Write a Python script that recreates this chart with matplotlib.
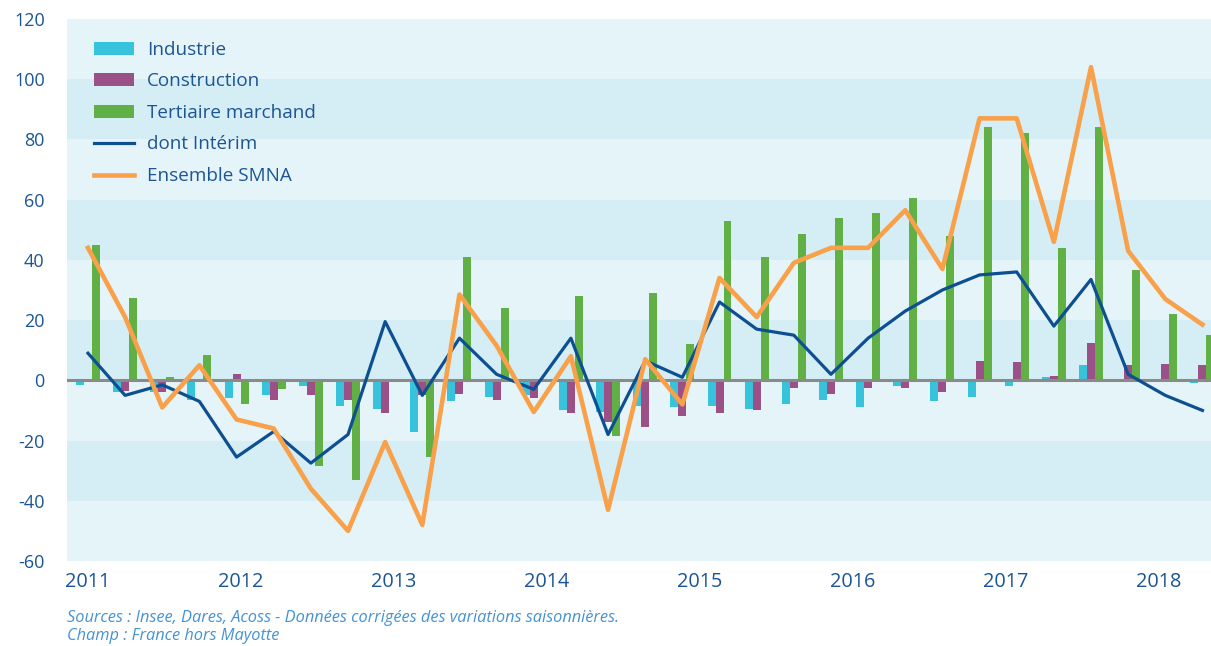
import numpy as np
import matplotlib
matplotlib.use("Agg")
import matplotlib.pyplot as plt

plt.rcParams['font.family'] = ['Open Sans', 'DejaVu Sans']
plt.rcParams['axes.unicode_minus'] = False

# 2011T1 -> 2018T3, variations trimestrielles (milliers)
industrie = [-1.5, -4, -4, -6.5, -6, -5, -2, -8.5, -9.5, -17,
             -7, -5.5, -5, -10, -10.5, -8.5, -9, -8.5, -9.5, -8,
             -6.5, -9, -2, -7, -5.5, -2, 1, 5, -0.3, 0, -1]
construction = [0, -3.5, -4, -0.5, 2, -6.5, -5, -6.5, -11, -5,
                -4.5, -6.5, -6, -11, -14, -15.5, -12, -11, -10, -2.5,
                -4.5, -2.5, -2.5, -4, 6.5, 6, 1.5, 12.5, 5, 5.5, 5]
tertiaire = [45, 27.5, 1, 8.5, -8, -3, -28.5, -33, 0, -25.5,
             41, 24, 0.5, 28, -18.5, 29, 12, 53, 41, 48.5,
             54, 55.5, 60.5, 48, 84, 82, 44, 84, 36.5, 22, 15]
interim = [9, -5, -1.5, -7, -25.5, -17, -27.5, -18, 19.5, -5,
           14, 2, -3, 14, -18, 6.5, 1, 26, 17, 15,
           2, 14, 23, 30, 35, 36, 18, 33.5, 2, -5, -10]
smna = [44, 21, -9, 5, -13, -16, -36, -50, -20.5, -48,
        28.5, 11.5, -10.5, 8, -43, 7, -8, 34, 21, 39,
        44, 44, 56.5, 37, 87, 87, 46, 104, 43, 27, 18.5]
years = ['2011', '2012', '2013', '2014', '2015', '2016', '2017', '2018']

x = np.arange(len(smna))
w = 0.215
txt = '#1b5596'

fig = plt.figure(figsize=(12.11, 6.46), dpi=100)
ax = fig.add_axes([0.0553, 0.1316, 0.9447, 0.839])

# bandes de fond
for k, lo in enumerate(range(-60, 120, 20)):
    ax.axhspan(lo, lo + 20, color='#e5f4f8' if k % 2 == 0 else '#d5eef5', lw=0, zorder=0)

b1 = ax.bar(x - w, industrie, w, color='#37c3dc', label='Industrie', zorder=2)
b2 = ax.bar(x, construction, w, color='#9b5087', label='Construction', zorder=2)
b3 = ax.bar(x + w, tertiaire, w, color='#60b046', label='Tertiaire marchand', zorder=2)
ax.axhline(0, color='#8a8a8a', lw=2.2, zorder=3)
l1, = ax.plot(x, interim, color='#0d4f91', lw=2.3, label='dont Intérim', zorder=4)
l2, = ax.plot(x, smna, color='#f9a04a', lw=3.3, label='Ensemble SMNA', zorder=5)

ax.set_xlim(-0.565, 30.23)
ax.set_ylim(-60, 120)
ax.set_yticks(range(-60, 121, 20))
ax.set_xticks(np.arange(len(years)) * 4.118)
ax.set_xticklabels(years)
ax.tick_params(length=0, colors=txt)
ax.tick_params(axis='y', labelsize=13, pad=16)
ax.tick_params(axis='x', labelsize=14.3, pad=8)
for s in ax.spines.values():
    s.set_visible(False)

ax.legend(handles=[b1, b2, b3, l1, l2], loc='upper left', bbox_to_anchor=(0.0236, 0.96),
          frameon=False, fontsize=13.6, labelcolor=txt, handlelength=2.1, handleheight=0.68,
          handletextpad=0.72, labelspacing=0.72, borderaxespad=0, borderpad=0)

fig.text(0.0553, 0.044, 'Sources : Insee, Dares, Acoss - Données corrigées des variations saisonnières.',
         color='#4592d3', fontsize=11.8, style='italic', va='center')
fig.text(0.0553, 0.015, 'Champ : France hors Mayotte',
         color='#4592d3', fontsize=11.8, style='italic', va='center')

fig.savefig('out.png', dpi=100)
